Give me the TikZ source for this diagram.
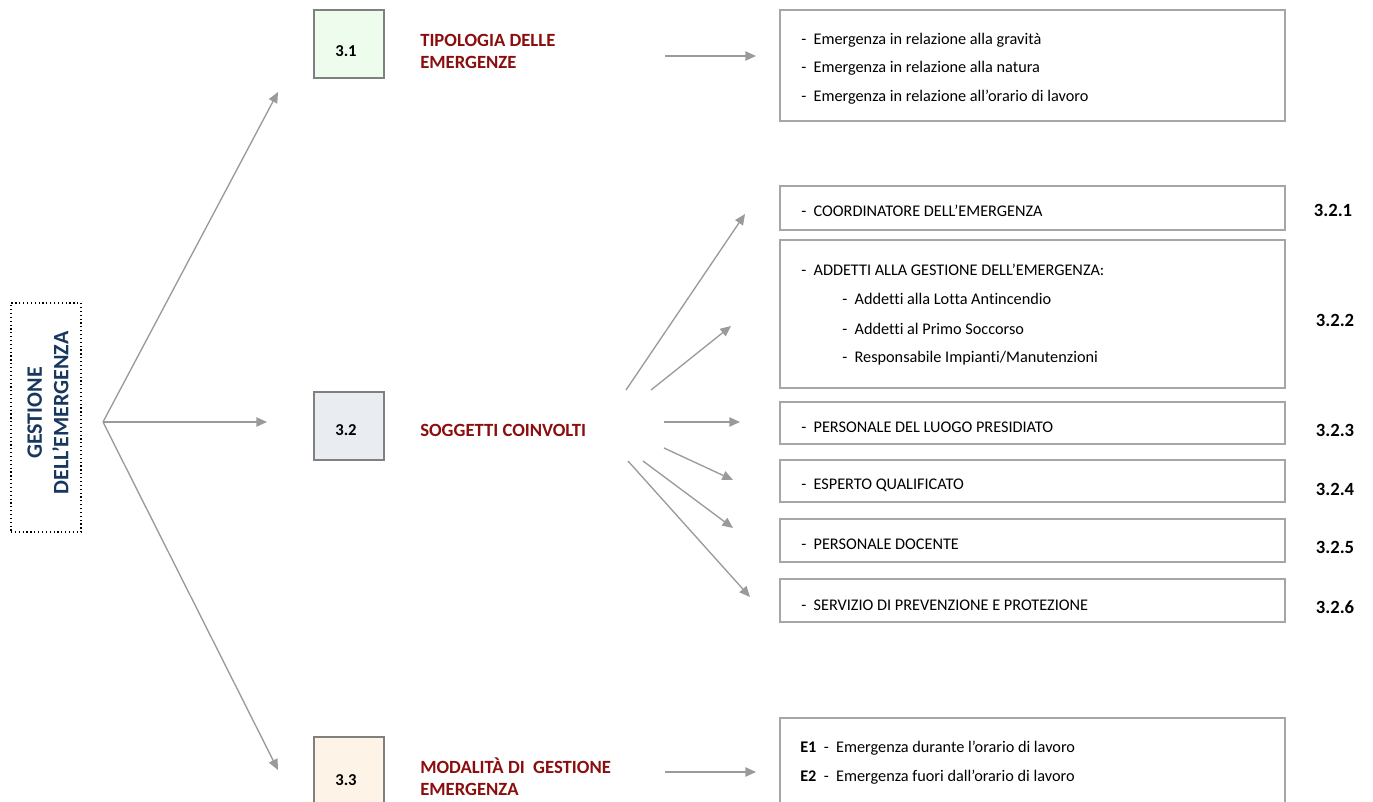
\documentclass[tikz,border=0pt]{standalone}
\usepackage{fontspec}
\setmainfont{Carlito}[Ligatures={NoCommon}]
\usetikzlibrary{arrows.meta,fit}
\definecolor{arrowgray}{HTML}{9A9A9A}
\definecolor{boxgray}{HTML}{A6A6A6}
\definecolor{sqgray}{HTML}{808080}
\definecolor{darkred}{HTML}{8B0E0E}
\definecolor{darkblue}{HTML}{17375E}
\definecolor{fillA}{HTML}{EEFCEE}
\definecolor{fillB}{HTML}{E9EDF2}
\definecolor{fillC}{HTML}{FDF3E6}
\tikzset{
  conn/.style={draw=arrowgray, line width=1pt, -{Triangle[length=8pt,width=7pt]}},
  listbox/.style={draw=boxgray, line width=1.5pt, inner sep=0pt},
  sqbox/.style={draw=sqgray, line width=1.5pt, inner sep=0pt},
  sqlabel/.style={font=\fontsize{12.5}{14}\selectfont\bfseries},
  title/.style={font=\fontsize{14}{16.5}\selectfont\bfseries, text=darkred, align=left, anchor=west, inner sep=0pt},
  item/.style={font=\fontsize{12.2}{14}\selectfont, anchor=west, inner sep=0pt},
  numlabel/.style={font=\fontsize{14}{16}\selectfont\bfseries, inner sep=0pt},
}
\begin{document}
\begin{tikzpicture}[x=0.75pt,y=-0.75pt]
\useasboundingbox (0,0) rectangle (1373,802);

% left main box
\node[draw=black, dotted, line width=0.9pt, inner sep=0pt, fit={(11,303)(81,532)}] (main) {};
\node[rotate=90, align=center, text=darkblue, font=\fontsize{16.5}{20}\selectfont\bfseries] (mainlbl) at (48,413) {GESTIONE\\DELL’EMERGENZA};

% squares
\node[sqbox, fill=fillA, fit={(314,10)(384,78)}] (s1) {};
\node[sqlabel] at (346,51) {3.1};
\node[sqbox, fill=fillB, fit={(314,392)(384,460)}] (s2) {};
\node[sqlabel] at (346,430) {3.2};
\node[sqbox, fill=fillC, fit={(314,737)(384,808)}] (s3) {};
\node[sqlabel] at (346,780) {3.3};

% titles
\node[title] (t1) at (420,51) {TIPOLOGIA DELLE\\EMERGENZE};
\node[title] (t2) at (420,430) {SOGGETTI COINVOLTI};
\node[title] (t3) at (420,777) {MODALITÀ DI\ \ GESTIONE\\EMERGENZA};

% connectors from main
\coordinate (o) at (103,422);
\coordinate (e1) at (278,92);
\coordinate (e2) at (267,422);
\coordinate (e3) at (278,770);
\draw[conn] (o) -- (e1);
\draw[conn] (o) -- (e2);
\draw[conn] (o) -- (e3);

% 3.1 list box
\node[listbox, fit={(780,10)(1285,121)}] (b1) {};
\node[item] at (801,40) {-\ \ Emergenza in relazione alla gravità};
\node[item] at (801,68) {-\ \ Emergenza in relazione alla natura};
\node[item] at (801,97) {-\ \ Emergenza in relazione all’orario di lavoro};
\coordinate (a1s) at (665,56);
\coordinate (a1e) at (756,56);
\draw[conn] (a1s) -- (a1e);

% 3.2 boxes
\node[listbox, fit={(780,186)(1285,230)}] (b21) {};
\node[item] at (801,211) {-\ \ COORDINATORE DELL’EMERGENZA};
\node[numlabel] at (1333,210) {3.2.1};

\node[listbox, fit={(780,240)(1285,388)}] (b22) {};
\node[item] at (801,270) {-\ \ ADDETTI ALLA GESTIONE DELL’EMERGENZA:};
\node[item] at (842,299) {-\ \ Addetti alla Lotta Antincendio};
\node[item] at (842,329) {-\ \ Addetti al Primo Soccorso};
\node[item] at (842,358) {-\ \ Responsabile Impianti/Manutenzioni};
\node[numlabel] at (1335,320) {3.2.2};

\node[listbox, fit={(780,402)(1285,444)}] (b23) {};
\node[item] at (801,427) {-\ \ PERSONALE DEL LUOGO PRESIDIATO};
\node[numlabel] at (1335,430) {3.2.3};

\node[listbox, fit={(780,460)(1285,502)}] (b24) {};
\node[item] at (801,485) {-\ \ ESPERTO QUALIFICATO};
\node[numlabel] at (1335,489) {3.2.4};

\node[listbox, fit={(780,519)(1285,562)}] (b25) {};
\node[item] at (801,544) {-\ \ PERSONALE DOCENTE};
\node[numlabel] at (1335,547) {3.2.5};

\node[listbox, fit={(780,579)(1285,622)}] (b26) {};
\node[item] at (801,605) {-\ \ SERVIZIO DI PREVENZIONE E PROTEZIONE};
\node[numlabel] at (1335,607) {3.2.6};

% connectors from 3.2
\coordinate (c1s) at (626,390); \coordinate (c1e) at (745,214);
\coordinate (c2s) at (651,390); \coordinate (c2e) at (731,326);
\coordinate (c3s) at (664,422); \coordinate (c3e) at (740,422);
\coordinate (c4s) at (664,448); \coordinate (c4e) at (733,480);
\coordinate (c5s) at (643,461); \coordinate (c5e) at (733,528);
\coordinate (c6s) at (628,461); \coordinate (c6e) at (750,597);
\draw[conn] (c1s) -- (c1e);
\draw[conn] (c2s) -- (c2e);
\draw[conn] (c3s) -- (c3e);
\draw[conn] (c4s) -- (c4e);
\draw[conn] (c5s) -- (c5e);
\draw[conn] (c6s) -- (c6e);

% 3.3 box
\node[listbox, fit={(780,718)(1285,812)}] (b3) {};
\node[item] at (800,748) {\textbf{E1}\ \ -\ \ Emergenza durante l’orario di lavoro};
\node[item] at (800,777) {\textbf{E2}\ \ -\ \ Emergenza fuori dall’orario di lavoro};
\coordinate (a3s) at (665,772);
\coordinate (a3e) at (756,772);
\draw[conn] (a3s) -- (a3e);
\end{tikzpicture}
\end{document}
